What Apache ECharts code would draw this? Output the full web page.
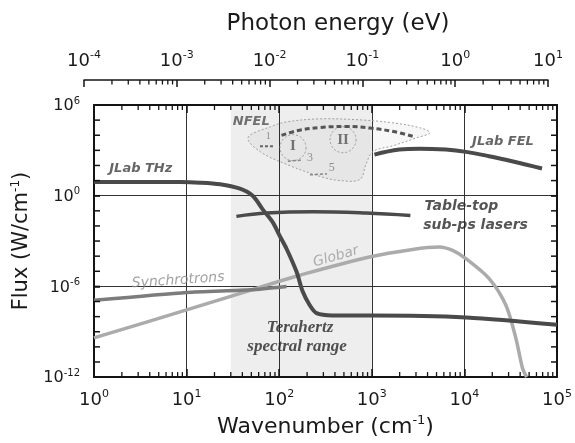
<!DOCTYPE html>
<html><head><meta charset="utf-8">
<script src="https://cdn.jsdelivr.net/npm/echarts@6/dist/echarts.min.js"></script>
<style>html,body{margin:0;padding:0;background:#fff}#c{width:575px;height:443px}</style>
</head><body><div id="c"></div>
<script>
// ---- data (wavenumber in cm^-1, flux in W/cm^-1) ----
const jlabThzW = [1, 8.5, 14, 23, 37, 52, 66, 85, 101, 120, 154, 179, 213, 253, 376, 1000, 10450, 100000];
const jlabThzF = [8.0, 8.0, 7.3, 5.7, 3.0, 0.97, 0.13, 0.018, 2.3e-3, 3.1e-4, 9.2e-6, 4.7e-7, 5.9e-8, 1.7e-8, 1.2e-8, 1.2e-8, 8.9e-9, 2.9e-9];

const jlabFelW = [1067, 1983, 3260, 6310, 10450, 18500, 32700, 68900];
const jlabFelF = [525, 1120, 1300, 1120, 790, 410, 190, 63];

const tableTopW = [34.5, 72.6, 231, 868, 2610];
const tableTopF = [0.043, 0.071, 0.087, 0.071, 0.049];

const synchW = [1, 10, 50, 120];
const synchF = [1.2e-7, 4.0e-7, 6.0e-7, 1.0e-6];

const globarW = [1, 10, 73, 166, 942, 2760, 5350, 7450, 10380, 18500, 28000, 35900, 42300, 47000];
const globarF = [3.9e-10, 2.8e-8, 1.2e-6, 5.5e-6, 8.9e-5, 2.8e-4, 4.0e-4, 2.4e-4, 6.9e-5, 3.3e-6, 5.9e-8, 3.9e-10, 4.2e-12, 1.0e-12];

const nfelW = [106, 155, 276, 535, 957, 1710, 2800];
const nfelF = [9700, 19700, 32500, 37800, 29700, 17700, 8300];

const nfelOutlineW = [46, 80, 121, 276, 746, 1690, 3320, 4250, 3080, 1690, 1030, 865, 746, 454, 276, 121, 62];
const nfelOutlineF = [6900, 36000, 77000, 121000, 104000, 66000, 31000, 14600, 6900, 2000, 830, 117, 12, 10, 19, 116, 830];

const harm1W = [62, 90];   const harm1F = [1850, 1850];
const harm3W = [124, 180]; const harm3F = [190, 230];
const harm5W = [215, 328]; const harm5F = [24, 28];

const ringW = [141, 489];
const ringF = [1510, 5070];

const thzRange = [30, 1000];

const annoText = ['JLab THz', 'NFEL', 'JLab FEL', 'Table-top', 'sub-ps lasers', 'Synchrotrons', 'Globar', 'Terahertz', 'spectral range', 'I', 'II', '1', '3', '5'];
const annoW = [3.2, 50, 26100, 9300, 13200, 8.1, 410, 168, 156, 141, 490, 76, 215, 369];
const annoF = [63, 77000, 3750, 0.205, 0.0116, 2.5e-6, 9.3e-5, 1.8e-9, 1e-10, 1850, 5000, 8300, 320, 70];

// axis ticks
const xDecades = [1, 10, 100, 1000, 10000, 100000];
const photonDecades = [1e-4, 1e-3, 1e-2, 1e-1, 1, 10];
const fluxDecades = [1e-12, 1e-11, 1e-10, 1e-9, 1e-8, 1e-7, 1e-6, 1e-5, 1e-4, 1e-3, 1e-2, 1e-1, 1, 10, 100, 1e3, 1e4, 1e5, 1e6];
const minorMultipliers = [2, 3, 4, 5, 6, 7, 8, 9];

// ---- helpers ----
const zip = (a, b) => a.map((x, i) => [x, b[i]]);
const minorOf = decs => {
  const out = [];
  for (let i = 0; i < decs.length - 1; i++) minorMultipliers.forEach(m => out.push(m * decs[i]));
  return out;
};
const FONT = 'DejaVu Sans';
const supFmt = v => '{b|10}{s|' + Math.round(Math.log10(v)) + '}';
const mkRich = (big, small, col) => ({
  b: {fontFamily: FONT, fontSize: big, color: col, lineHeight: big + 2, verticalAlign: 'bottom'},
  s: {fontFamily: FONT, fontSize: small, color: col, lineHeight: small - 2, verticalAlign: 'top'}
});
const titleRich = (big, small) => ({
  a: {fontFamily: FONT, fontSize: big, color: '#1a1a1a', lineHeight: big + 2, verticalAlign: 'bottom'},
  s: {fontFamily: FONT, fontSize: small, color: '#1a1a1a', lineHeight: small - 2, verticalAlign: 'top'}
});
const AX = '#141414';

const tickSeries = (xi, yi, data, build) => ({
  type: 'custom', xAxisIndex: xi, yAxisIndex: yi, silent: true, clip: false, z: 6,
  data: data, renderItem: (p, api) => build(api)
});
const seg = (x1, y1, x2, y2, w) => ({type: 'line', shape: {x1, y1, x2, y2}, style: {stroke: AX, lineWidth: w}});

const annoStyles = [
  {fontFamily: FONT, fontStyle: 'italic', fontWeight: 'bold', fontSize: 13, color: '#404040'},
  {fontFamily: FONT, fontStyle: 'italic', fontWeight: 'bold', fontSize: 13, color: '#505050'},
  {fontFamily: FONT, fontStyle: 'italic', fontWeight: 'bold', fontSize: 13, color: '#404040'},
  {fontFamily: FONT, fontStyle: 'italic', fontWeight: 'bold', fontSize: 14, color: '#2a2a2a'},
  {fontFamily: FONT, fontStyle: 'italic', fontWeight: 'bold', fontSize: 14, color: '#2a2a2a'},
  {fontFamily: FONT, fontStyle: 'italic', fontSize: 14, color: '#8a8a8a', rotate: 4},
  {fontFamily: FONT, fontStyle: 'italic', fontSize: 14, color: '#9a9a9a', rotate: 16},
  {fontFamily: 'Liberation Serif', fontStyle: 'italic', fontWeight: 'bold', fontSize: 17, color: '#262626'},
  {fontFamily: 'Liberation Serif', fontStyle: 'italic', fontWeight: 'bold', fontSize: 17, color: '#262626'},
  {fontFamily: 'Liberation Serif', fontWeight: 'bold', fontSize: 15, color: '#555'},
  {fontFamily: 'Liberation Serif', fontWeight: 'bold', fontSize: 15, color: '#555'},
  {fontFamily: 'Liberation Serif', fontSize: 10, color: '#777'},
  {fontFamily: 'Liberation Serif', fontSize: 12, color: '#777'},
  {fontFamily: 'Liberation Serif', fontSize: 12, color: '#777'}
];

const lineS = (name, w, f, color, width, smooth, extra) => Object.assign({
  type: 'line', name, data: zip(w, f), showSymbol: false, smooth: smooth,
  lineStyle: {color, width}, z: 4, silent: true
}, extra || {});

const option = {
  animation: false,
  backgroundColor: '#ffffff',
  grid: [
    {left: 94, right: 18, top: 105, bottom: 63, show: false},
    {left: 84, right: 27, top: 80, height: 1, show: false}
  ],
  xAxis: [
    {gridIndex: 0, type: 'log', logBase: 10, min: 1, max: 1e5, position: 'bottom',
     axisLine: {show: true, onZero: false, lineStyle: {color: AX, width: 2}},
     axisTick: {show: true, inside: true, length: 8, lineStyle: {color: AX, width: 1.5}},
     axisLabel: {margin: 12, formatter: supFmt, rich: mkRich(18, 11, '#1a1a1a')},
     splitLine: {show: true, lineStyle: {color: '#333', width: 1}},
     name: '{a|Wavenumber (cm}{s|-1}{a|)}', nameLocation: 'middle', nameGap: 30,
     nameTextStyle: {rich: titleRich(22, 13)}},
    {gridIndex: 0, type: 'log', logBase: 10, min: 1, max: 1e5, position: 'top',
     axisLine: {show: true, onZero: false, lineStyle: {color: AX, width: 2}},
     axisTick: {show: true, inside: true, length: 8, lineStyle: {color: AX, width: 1.5}},
     axisLabel: {show: false}, splitLine: {show: false}},
    {gridIndex: 1, type: 'log', logBase: 10, min: 1e-4, max: 10, position: 'top',
     axisLine: {show: true, onZero: false, lineStyle: {color: AX, width: 1.5}},
     axisTick: {show: true, inside: true, length: 7, lineStyle: {color: AX, width: 1.5}},
     axisLabel: {margin: 10, formatter: supFmt, rich: mkRich(18, 11, '#1a1a1a')},
     splitLine: {show: false},
     name: 'Photon energy (eV)', nameLocation: 'middle', nameGap: 44,
     nameTextStyle: {fontFamily: FONT, fontSize: 23, color: '#1a1a1a', padding: [0, 0, 0, 44]}}
  ],
  yAxis: [
    {gridIndex: 0, type: 'log', logBase: 1e6, min: 1e-12, max: 1e6, position: 'left',
     axisLine: {show: true, onZero: false, lineStyle: {color: AX, width: 2}},
     axisTick: {show: true, inside: true, length: 6, lineStyle: {color: AX, width: 1.5}},
     axisLabel: {margin: 14, formatter: supFmt, rich: mkRich(16, 10, '#1a1a1a')},
     splitLine: {show: true, lineStyle: {color: '#333', width: 1}},
     name: '{a|Flux (W/cm}{s|-1}{a|)}', nameLocation: 'middle', nameGap: 54,
     nameTextStyle: {rich: titleRich(21, 12)}},
    {gridIndex: 0, type: 'log', logBase: 1e6, min: 1e-12, max: 1e6, position: 'right',
     axisLine: {show: true, onZero: false, lineStyle: {color: AX, width: 2}},
     axisTick: {show: true, inside: true, length: 6, lineStyle: {color: AX, width: 1.5}},
     axisLabel: {show: false}, splitLine: {show: false}},
    {gridIndex: 1, type: 'value', min: 0, max: 1, show: false}
  ],
  series: [
    // Terahertz spectral range shading
    {type: 'line', name: 'Terahertz range', data: [], silent: true, z: 1,
     markArea: {silent: true, itemStyle: {color: 'rgba(0,0,0,0.065)'},
       data: [[{xAxis: thzRange[0], yAxis: 1e-12}, {xAxis: thzRange[1], yAxis: 1e6}]]}},
    // NFEL region outline
    {type: 'custom', name: 'NFEL region', silent: true, z: 2, clip: false,
     data: zip(nfelOutlineW, nfelOutlineF),
     renderItem: (p, api) => {
       if (p.dataIndex !== 0) return null;
       const pts = nfelOutlineW.map((w, i) => api.coord([w, nfelOutlineF[i]]));
       return {type: 'polygon', shape: {points: pts, smooth: 0.35},
         style: {fill: 'rgba(0,0,0,0.03)', stroke: '#a0a0a0', lineWidth: 1, lineDash: [2, 2]}};
     }},
    lineS('Globar', globarW, globarF, '#ababab', 3.5, 0.3),
    lineS('Synchrotrons', synchW, synchF, '#7c7c7c', 3.5, 0.2),
    lineS('JLab THz', jlabThzW, jlabThzF, '#4a4a4a', 4, 0.3),
    lineS('JLab FEL', jlabFelW, jlabFelF, '#4a4a4a', 4, 0.4),
    lineS('Table-top sub-ps lasers', tableTopW, tableTopF, '#4a4a4a', 3.5, 0.4),
    lineS('NFEL', nfelW, nfelF, '#555', 3, 0.4, {lineStyle: {color: '#555', width: 3, type: [5, 3]}}),
    lineS('NFEL harmonic 1', harm1W, harm1F, '#666', 2, false, {lineStyle: {color: '#666', width: 2, type: [3, 2]}}),
    lineS('NFEL harmonic 3', harm3W, harm3F, '#888', 1.5, false, {lineStyle: {color: '#888', width: 1.5, type: [3, 2]}}),
    lineS('NFEL harmonic 5', harm5W, harm5F, '#888', 1.5, false, {lineStyle: {color: '#888', width: 1.5, type: [3, 2]}}),
    {type: 'scatter', name: 'rings', silent: true, z: 3, symbol: 'circle', symbolSize: 26,
     itemStyle: {color: 'rgba(0,0,0,0)', borderColor: '#8a8a8a', borderWidth: 1, borderType: [2, 2]},
     data: zip(ringW, ringF)},
    {type: 'scatter', name: 'annotations', silent: true, z: 7, symbolSize: 1,
     itemStyle: {color: 'rgba(0,0,0,0)'},
     data: annoText.map((t, i) => ({name: t, value: [annoW[i], annoF[i]],
       label: Object.assign({show: true, position: 'inside', formatter: '{b}'}, annoStyles[i])}))},
    // minor ticks on the plot's bottom/top
    tickSeries(0, 0, minorOf(xDecades).map(v => [v, 1]), api => {
      const v = api.value(0);
      const b = api.coord([v, 1e-12]), t = api.coord([v, 1e6]);
      return {type: 'group', children: [seg(b[0], b[1], b[0], b[1] - 5, 1.3), seg(t[0], t[1], t[0], t[1] + 5, 1.3)]};
    }),
    // decade ticks on left/right
    tickSeries(0, 0, fluxDecades.map(f => [1, f]), api => {
      const f = api.value(1);
      const l = api.coord([1, f]), r = api.coord([1e5, f]);
      return {type: 'group', children: [seg(l[0], l[1], l[0] + 6, l[1], 1.5), seg(r[0], r[1], r[0] - 6, r[1], 1.5)]};
    }),
    // minor ticks on the photon-energy axis
    tickSeries(2, 2, minorOf(photonDecades).map(v => [v, 1]), api => {
      const t = api.coord([api.value(0), 1]);
      return seg(t[0], t[1], t[0], t[1] + 4.5, 1.3);
    })
  ]
};

const chart = echarts.init(document.getElementById('c'), null, {renderer: 'canvas'});
chart.setOption(option);
</script>
</body></html>
